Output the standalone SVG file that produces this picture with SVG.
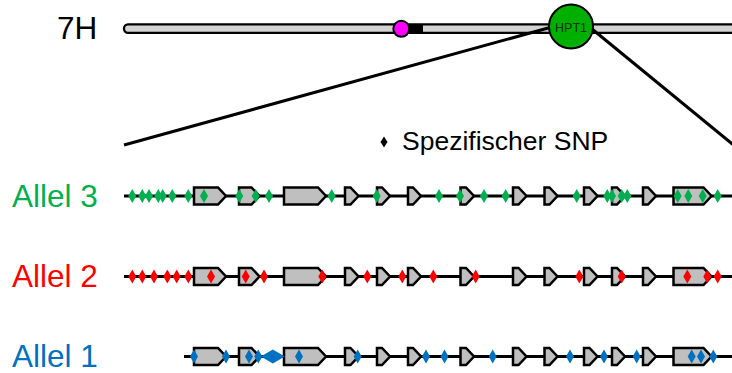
<svg xmlns="http://www.w3.org/2000/svg" xmlns:xlink="http://www.w3.org/1999/xlink" width="732" height="373" viewBox="0 0 732 373">
<style>
.lbl{font-family:"Liberation Sans",Arial,sans-serif;font-size:31.5px}
.track{stroke:#000;stroke-width:3;fill:none}
.gene{fill:#bfbfbf;stroke:#000;stroke-width:2.5;stroke-linejoin:miter}
.g3{fill:#00b050}.g2{fill:#ff0000}.g1{fill:#0070c0}
.zoomline{stroke:#000;stroke-width:3;fill:none}
</style>
<defs>
<path id="d" d="M0,-7 L4,0 L0,7 L-4,0 Z"/>
<g id="genes">
<path class="gene" d="M194,-8.5 H218 L226,0 L218,8.5 H194 Z"/>
<path class="gene" d="M239,-8.5 H251.5 L259.5,0 L251.5,8.5 H239 Z"/>
<path class="gene" d="M284,-8.5 H318 L326,0 L318,8.5 H284 Z"/>
<path class="gene" d="M345,-8.5 H350.5 L358.5,0 L350.5,8.5 H345 Z"/>
<path class="gene" d="M377,-8.5 H382 L390,0 L382,8.5 H377 Z"/>
<path class="gene" d="M408,-8.5 H413 L421,0 L413,8.5 H408 Z"/>
<path class="gene" d="M460.5,-8.5 H466 L474,0 L466,8.5 H460.5 Z"/>
<path class="gene" d="M513,-8.5 H518.5 L526.5,0 L518.5,8.5 H513 Z"/>
<path class="gene" d="M544.5,-8.5 H549.5 L557.5,0 L549.5,8.5 H544.5 Z"/>
<path class="gene" d="M584,-8.5 H589.5 L597.5,0 L589.5,8.5 H584 Z"/>
<path class="gene" d="M612,-8.5 H617 L625,0 L617,8.5 H612 Z"/>
<path class="gene" d="M643,-8.5 H648 L656,0 L648,8.5 H643 Z"/>
<path class="gene" d="M673.5,-8.5 H703.5 L711.5,0 L703.5,8.5 H673.5 Z"/>
</g>
</defs>
<rect width="732" height="373" fill="#fff"/>

<g id="chromosome">
<text class="lbl" x="57" y="39">7H</text>
<rect x="124" y="24.3" width="640" height="8.5" rx="4" fill="#d3d3d3" stroke="#000" stroke-width="2.3"/>
<rect x="404" y="25" width="19" height="7.5" fill="#000"/>
<circle cx="401.3" cy="28.8" r="8" fill="#ff00ff" stroke="#000" stroke-width="2"/>
</g>

<g id="connectors">
<line class="zoomline" x1="124" y1="145" x2="550" y2="27.5"/>
<line class="zoomline" x1="592" y1="29" x2="736" y2="147"/>
</g>

<g id="hpt1">
<circle cx="571" cy="26.5" r="22" fill="#00b000" stroke="#000" stroke-width="2"/>
<text x="571" y="31.5" text-anchor="middle" font-family="Liberation Sans,Arial,sans-serif" font-size="12.5" fill="#0d2e0d">HPT1</text>
</g>

<g id="legend">
<path d="M384,136.5 L387.5,142 L384,147.5 L380.5,142 Z" fill="#000"/>
<text x="402" y="149.5" font-family="Liberation Sans,Arial,sans-serif" font-size="26.5" fill="#000">Spezifischer SNP</text>
</g>

<g id="allel3">
<text class="lbl" x="12" y="206.5" fill="#00b050">Allel 3</text>
<line class="track" x1="124" y1="196" x2="732" y2="196"/>
<use xlink:href="#genes" transform="translate(0,196)"/>
<g class="g3" transform="translate(0,196)">
<use xlink:href="#d" x="132.3"/><use xlink:href="#d" x="142.3"/><use xlink:href="#d" x="149"/><use xlink:href="#d" x="158.3"/><use xlink:href="#d" x="162.7"/><use xlink:href="#d" x="172.3"/><use xlink:href="#d" x="188.3"/><use xlink:href="#d" x="204"/><use xlink:href="#d" x="239.3"/><use xlink:href="#d" x="255.7"/><use xlink:href="#d" x="269"/><use xlink:href="#d" x="331.7"/><use xlink:href="#d" x="376.7"/>
<use xlink:href="#d" x="439"/><use xlink:href="#d" x="460"/><use xlink:href="#d" x="484"/><use xlink:href="#d" x="505.7"/><use xlink:href="#d" x="576.7"/><use xlink:href="#d" x="607.3"/><use xlink:href="#d" x="612"/><use xlink:href="#d" x="621.7"/><use xlink:href="#d" x="627.3"/><use xlink:href="#d" x="677.7"/><use xlink:href="#d" x="688.3"/><use xlink:href="#d" x="702.7"/><use xlink:href="#d" x="717.7"/>
</g>
</g>

<g id="allel2">
<text class="lbl" x="12" y="286.5" fill="#ff0000">Allel 2</text>
<line class="track" x1="124" y1="276.5" x2="732" y2="276.5"/>
<use xlink:href="#genes" transform="translate(0,276.5)"/>
<g class="g2" transform="translate(0,276.5)">
<use xlink:href="#d" x="132.3"/><use xlink:href="#d" x="142.3"/><use xlink:href="#d" x="154"/><use xlink:href="#d" x="167.3"/><use xlink:href="#d" x="176.7"/><use xlink:href="#d" x="188.3"/><use xlink:href="#d" x="211"/><use xlink:href="#d" x="245.7"/><use xlink:href="#d" x="264"/><use xlink:href="#d" x="322.3"/><use xlink:href="#d" x="367.3"/><use xlink:href="#d" x="402.3"/>
<use xlink:href="#d" x="433.3"/><use xlink:href="#d" x="475.7"/><use xlink:href="#d" x="579.3"/><use xlink:href="#d" x="621.7"/><use xlink:href="#d" x="687.3"/><use xlink:href="#d" x="707.3"/><use xlink:href="#d" x="717.7"/>
</g>
</g>

<g id="allel1">
<text class="lbl" x="12" y="366.5" fill="#0070c0">Allel 1</text>
<line class="track" x1="184" y1="356.5" x2="732" y2="356.5"/>
<use xlink:href="#genes" transform="translate(0,356.5)"/>
<g class="g1" transform="translate(0,356.5)">
<use xlink:href="#d" x="194"/><use xlink:href="#d" x="226"/><use xlink:href="#d" x="249"/><use xlink:href="#d" x="258.3"/>
<path d="M260.8,0 L272.8,-7 L284.8,0 L272.8,7 Z"/>
<use xlink:href="#d" x="299"/><use xlink:href="#d" x="357.7"/><use xlink:href="#d" x="426"/><use xlink:href="#d" x="444.5"/><use xlink:href="#d" x="492.7"/><use xlink:href="#d" x="570"/><use xlink:href="#d" x="604"/><use xlink:href="#d" x="636.7"/><use xlink:href="#d" x="691.7"/><use xlink:href="#d" x="701"/><use xlink:href="#d" x="713.3"/>
</g>
</g>
</svg>
